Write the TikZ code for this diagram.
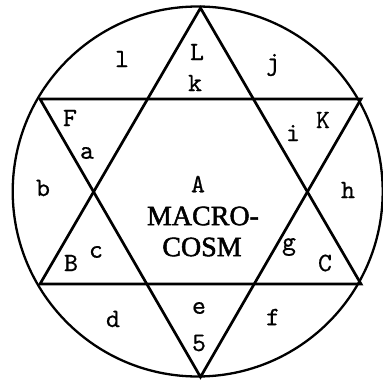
\documentclass[tikz,border=0pt]{standalone}
\usepackage{fontspec}
\usepackage{graphicx}
\setmainfont{Liberation Serif}
\newcommand{\heavy}[2]{\special{pdf:code q 2 Tr #1 w 0 J 1 j}#2\special{pdf:code Q}}
\newcommand{\mtx}[1]{\heavy{0.06}{\scalebox{2.65}{\ttfamily #1}}}
\begin{document}
\begin{tikzpicture}[x=1pt,y=-1pt,
  lab/.style={inner sep=0pt, anchor=center},
  big/.style={font=\fontsize{28}{28}\selectfont, inner sep=0pt, anchor=center},
  edge/.style={line width=2.7pt, line join=miter}]
\useasboundingbox (0,0) rectangle (383,383);
\node[circle, draw, line width=2.3pt, minimum size=370pt, inner sep=0pt] (circ) at (197.7,191.5) {};
\coordinate (T) at (200.5,8);
\coordinate (BL) at (40,284);
\coordinate (BR) at (361,284);
\coordinate (Bt) at (200.5,377);
\coordinate (TL) at (40,99);
\coordinate (TR) at (361,99);
\draw[edge] (T) -- (BL) -- (BR) -- cycle;
\draw[edge] (Bt) -- (TL) -- (TR) -- cycle;
\node[lab] (l) at (122,59) {\mtx{l}};
\node[lab] (L) at (197,52) {\mtx{L}};
\node[lab] (k) at (195,83) {\mtx{k}};
\node[lab] (j) at (273,65) {\mtx{j}};
\node[lab] (F) at (70,118) {\mtx{F}};
\node[lab] (a) at (87,153) {\mtx{a}};
\node[lab] (i) at (293,133) {\mtx{i}};
\node[lab] (K) at (323,120) {\mtx{K}};
\node[lab] (b) at (43,188) {\mtx{b}};
\node[lab] (A) at (198,184) {\mtx{A}};
\node[big] (m1) at (203,216) {\heavy{0.5}{MACRO-}};
\node[big] (m2) at (202,247) {\heavy{0.5}{COSM}};
\node[lab] (h) at (348,190) {\mtx{h}};
\node[lab] (B) at (71,263) {\mtx{B}};
\node[lab] (c) at (96,252) {\mtx{c}};
\node[lab] (g) at (289,247) {\mtx{g}};
\node[lab] (C) at (325,263) {\mtx{C}};
\node[lab] (d) at (113,319) {\mtx{d}};
\node[lab] (e) at (199,308) {\mtx{e}};
\node[lab] (5) at (199,343) {\mtx{5}};
\node[lab] (f) at (273,317) {\mtx{f}};
\end{tikzpicture}
\end{document}
